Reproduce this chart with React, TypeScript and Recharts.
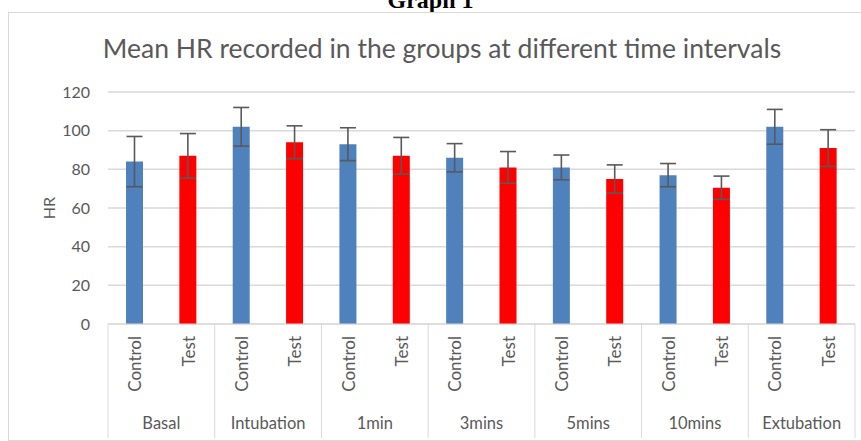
import { Bar, BarChart, CartesianGrid, Cell, ErrorBar, XAxis, YAxis } from 'recharts'

const groups = ['Basal', 'Intubation', '1min', '3mins', '5mins', '10mins', 'Extubation']
const controlMean = [84, 102, 93, 86, 81, 77, 102]
const controlSD = [13, 10, 8.5, 7.3, 6.4, 6, 9]
const testMean = [87, 94, 87, 81, 75, 70.5, 91]
const testSD = [11.5, 8.5, 9.5, 8.2, 7.3, 6, 9.5]
const yTicks = [0, 20, 40, 60, 80, 100, 120]

const colors: Record<string, string> = { Control: '#4f81bd', Test: '#ff0000' }

const rows = groups.flatMap((g, i) => [
    { key: `${g}-Control`, group: g, series: 'Control', hr: controlMean[i], err: controlSD[i] },
    { key: `${g}-Test`, group: g, series: 'Test', hr: testMean[i], err: testSD[i] },
])

const W = 861
const H = 441
const margin = { top: 92, right: 6, bottom: 0, left: 48 }
const yAxisW = 60
const band = (W - margin.left - margin.right - yAxisW) / rows.length
const font = 'Lato, "Open Sans", sans-serif'
const textColor = '#595959'
const lineColor = '#d9d9d9'

function CategoryTick(props: any) {
    const { x, y, index } = props
    const row = rows[index]
    if (!row) return null
    return (
        <g>
            <text
                transform={`translate(${x},${y + 12}) rotate(-90)`}
                textAnchor='end'
                dominantBaseline='central'
                fill={textColor}
                fontSize={17}
                fontFamily={font}
            >
                {row.series}
            </text>
            {row.series === 'Control' && (
                <>
                    <line x1={x - band / 2} x2={x - band / 2} y1={y} y2={y + 114} stroke={lineColor} />
                    <text
                        x={x + band / 2}
                        y={y + 99}
                        textAnchor='middle'
                        dominantBaseline='central'
                        fill={textColor}
                        fontSize={16.5}
                        fontFamily={font}
                    >
                        {row.group}
                    </text>
                </>
            )}
            {index === rows.length - 1 && (
                <line x1={x + band / 2} x2={x + band / 2} y1={y} y2={y + 114} stroke={lineColor} />
            )}
        </g>
    )
}

export default function App() {
    return (
        <div style={{ position: 'absolute', left: 0, top: 0, width: W, height: H, overflow: 'hidden', background: '#fff' }}>
            <div
                style={{
                    position: 'absolute',
                    left: 0,
                    width: W,
                    top: -12,
                    lineHeight: '24px',
                    textAlign: 'center',
                    fontFamily: '"Liberation Serif", serif',
                    fontWeight: 'bold',
                    fontSize: 24,
                }}
            >
                Graph 1
            </div>
            <div
                style={{
                    position: 'absolute',
                    left: 8,
                    top: 12,
                    width: W,
                    height: 427,
                    border: `1px solid ${lineColor}`,
                }}
            />
            <div
                style={{
                    position: 'absolute',
                    left: 0,
                    width: 884,
                    top: 31,
                    lineHeight: '34px',
                    textAlign: 'center',
                    fontFamily: font,
                    fontSize: 26.5,
                    color: textColor,
                }}
            >
                Mean HR recorded in the groups at different time intervals
            </div>
            <div style={{ position: 'absolute', left: 0, top: 0 }}>
                <BarChart width={W} height={H} data={rows} margin={margin}>
                    <CartesianGrid vertical={false} stroke={lineColor} strokeWidth={1.5} />
                    <XAxis
                        dataKey='key'
                        height={117}
                        interval={0}
                        tickLine={false}
                        tickSize={0}
                        tickMargin={0}
                        axisLine={{ stroke: lineColor }}
                        tick={<CategoryTick />}
                    />
                    <YAxis
                        width={yAxisW}
                        domain={[0, 120]}
                        ticks={yTicks}
                        axisLine={false}
                        tickLine={false}
                        tickMargin={12}
                        tick={{ fill: textColor, fontSize: 16, fontFamily: font }}
                        label={{
                            content: ({ viewBox }: any) => (
                                <text
                                    transform={`translate(${viewBox.x},${viewBox.y + viewBox.height / 2}) rotate(-90)`}
                                    textAnchor='middle'
                                    dominantBaseline='central'
                                    fill={textColor}
                                    fontSize={16}
                                    fontFamily={font}
                                >
                                    HR
                                </text>
                            ),
                        }}
                    />
                    <Bar dataKey='hr' barSize={17} isAnimationActive={false}>
                        {rows.map((r) => (
                            <Cell key={r.key} fill={colors[r.series]} />
                        ))}
                        <ErrorBar dataKey='err' width={8} stroke='#595959' strokeWidth={1.6} />
                    </Bar>
                </BarChart>
            </div>
        </div>
    )
}
